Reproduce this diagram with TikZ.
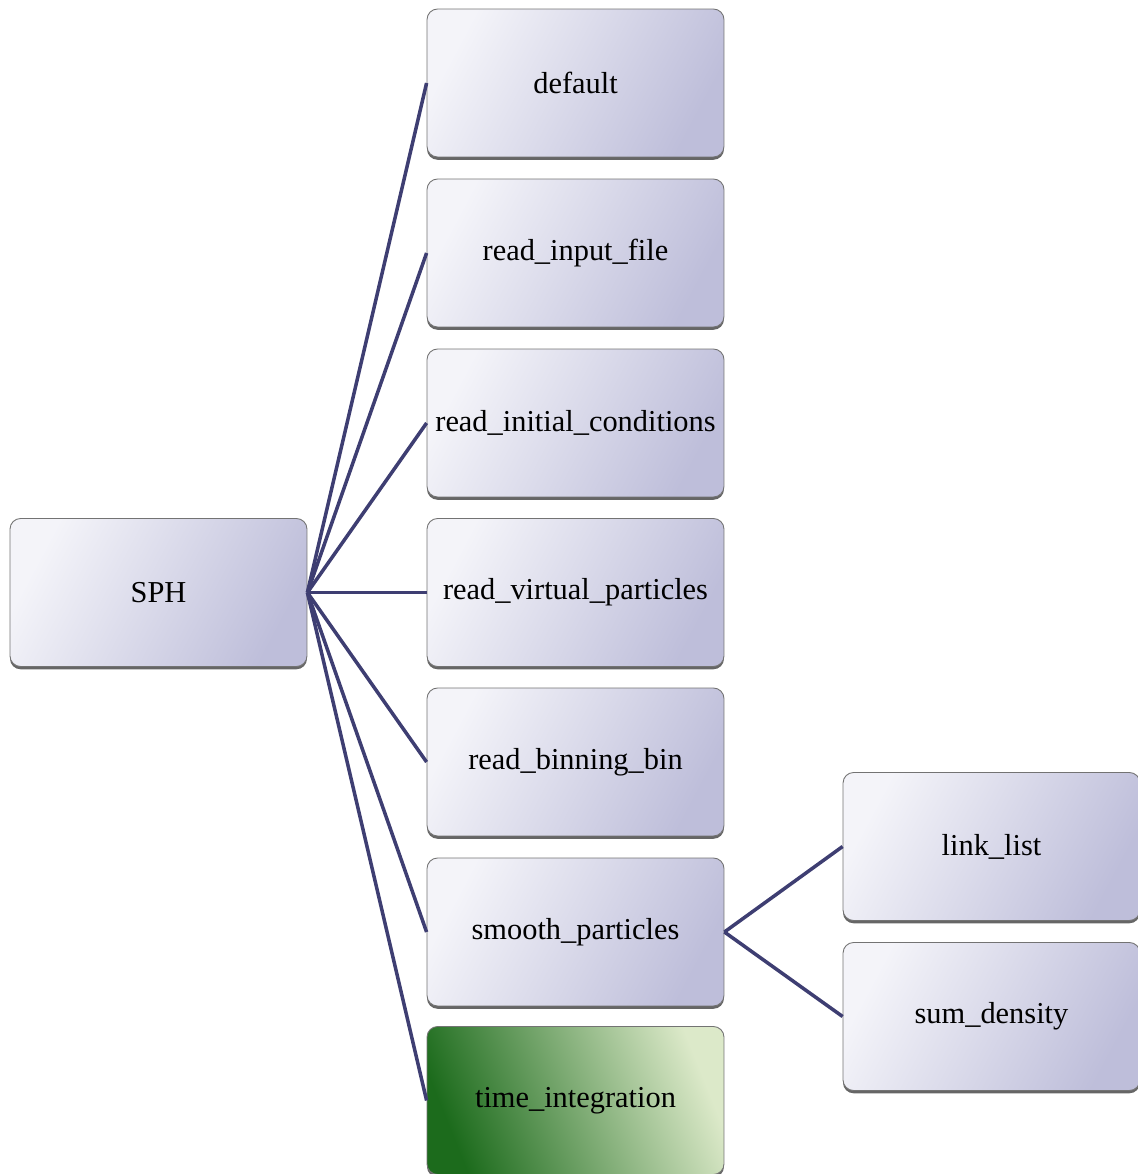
\documentclass[tikz,border=0pt]{standalone}
\usepackage{fontspec}
\setmainfont{Liberation Serif}
\usetikzlibrary{shadows}
\definecolor{boxlight}{HTML}{F4F4F9}
\definecolor{boxdark}{HTML}{BEBEDA}
\definecolor{greenlight}{HTML}{DCE9C9}
\definecolor{greendark}{HTML}{1C6B1C}
\definecolor{linkcol}{HTML}{3E3E72}
\begin{document}
\begin{tikzpicture}[x=0.02cm,y=-0.02cm,
  box/.style={rectangle, rounded corners=6pt, draw=gray!90!black, line width=0.5pt,
    minimum width=5.94cm, minimum height=2.96cm, inner sep=0pt,
    top color=boxlight, bottom color=boxdark, shading angle=62,
    drop shadow={shadow xshift=0pt, shadow yshift=-1.6pt, fill=gray!80!black, opacity=1},
    font=\fontsize{17.3}{20}\selectfont},
  greenbox/.style={box, top color=greenlight, bottom color=greendark, shading angle=-68},
  link/.style={draw=linkcol, line width=2pt}]
\useasboundingbox (0,0) rectangle (1138,1174);
\node[box] (sph) at (158.5,592.5) {SPH};
\node[box] (default) at (575.5,83) {default};
\node[box] (rif) at (575.5,253) {read\_input\_file};
\node[box] (ric) at (575.5,423) {read\_initial\_conditions};
\node[box] (rvp) at (575.5,592.5) {read\_virtual\_particles};
\node[box] (rbb) at (575.5,762) {read\_binning\_bin};
\node[box] (smp) at (575.5,932) {smooth\_particles};
\node[greenbox] (ti) at (575.5,1100.5) {time\_integration};
\node[box] (ll) at (991.5,846.5) {link\_list};
\node[box] (sd) at (991.5,1016.5) {sum\_density};
\foreach \c in {default,rif,ric,rvp,rbb,smp,ti} {
  \draw[link] (sph.east) -- (\c.west);
}
\draw[link] (smp.east) -- (ll.west);
\draw[link] (smp.east) -- (sd.west);
\end{tikzpicture}
\end{document}
